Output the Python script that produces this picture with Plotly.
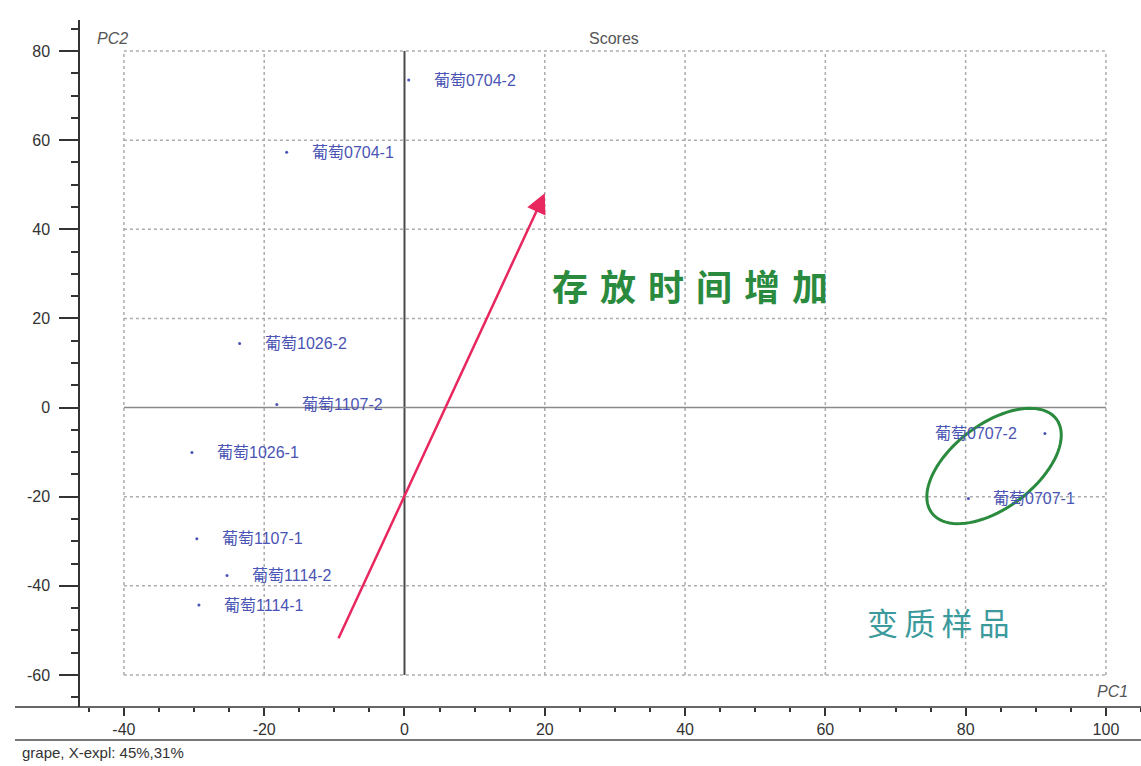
import numpy as np
import plotly.graph_objects as go

# PCA scores (PC1, PC2) for each grape sample
samples = ["葡萄0704-2", "葡萄0704-1", "葡萄1026-2", "葡萄1107-2", "葡萄1026-1",
           "葡萄1107-1", "葡萄1114-2", "葡萄1114-1", "葡萄0707-2", "葡萄0707-1"]
pc1 = [0.6, -16.8, -23.5, -18.2, -30.3, -29.6, -25.3, -29.3, 91.3, 80.4]
pc2 = [73.5, 57.3, 14.4, 0.7, -10.1, -29.4, -37.7, -44.3, -5.8, -20.4]
label_side = ["right"] * 8 + ["left", "right"]

x_ticks = [-40, -20, 0, 20, 40, 60, 80, 100]
x_ticktext = ["-40", "-20", "0", "20", "40", "60", "80", "100"]
y_ticks = [-60, -40, -20, 0, 20, 40, 60, 80]
y_ticktext = ["-60", "-40", "-20", "0", "20", "40", "60", "80"]

X_RANGE = [-46.26, 105.0]
Y_RANGE = [-67.18, 86.97]
W, H = 1141, 766
ML, MR, MT, MB = 80, 0, 20, 59
px_x = (W - ML - MR) / (X_RANGE[1] - X_RANGE[0])
px_y = (H - MT - MB) / (Y_RANGE[1] - Y_RANGE[0])

LATIN = "Liberation Sans, Arial, Noto Sans CJK SC"
CJK = "Noto Sans CJK SC"
POINT_BLUE = "#4a54b4"
GRID = "#acacac"

fig = go.Figure()

fig.add_trace(go.Scatter(
    x=pc1, y=pc2, mode="markers",
    marker=dict(size=3, color=POINT_BLUE),
    hoverinfo="text", text=samples, showlegend=False,
))

shapes = []
# dotted grid inside the [-40,100] x [-60,80] box
for gx in x_ticks:
    if gx == 0:
        continue
    shapes.append(dict(type="line", xref="x", yref="y", x0=gx, x1=gx,
                       y0=y_ticks[0], y1=y_ticks[-1],
                       line=dict(color=GRID, width=1.5, dash="dot"), layer="below"))
for gy in y_ticks:
    if gy == 0:
        continue
    shapes.append(dict(type="line", xref="x", yref="y", y0=gy, y1=gy,
                       x0=x_ticks[0], x1=x_ticks[-1],
                       line=dict(color=GRID, width=1.5, dash="dot"), layer="below"))
# origin cross lines
shapes.append(dict(type="line", xref="x", yref="y", x0=0, x1=0,
                   y0=y_ticks[0], y1=y_ticks[-1],
                   line=dict(color="#4a4a4a", width=2), layer="below"))
shapes.append(dict(type="line", xref="x", yref="y", y0=0, y1=0,
                   x0=x_ticks[0], x1=x_ticks[-1],
                   line=dict(color="#8a8a8a", width=1.5), layer="below"))
# bottom axis line and the rule under the tick labels
left_paper = (15 - ML) / (W - ML - MR)
shapes.append(dict(type="line", xref="paper", yref="paper", x0=left_paper, x1=1,
                   y0=0, y1=0, line=dict(color="#333333", width=1.5)))
shapes.append(dict(type="line", xref="paper", yref="paper", x0=left_paper, x1=1,
                   y0=-33 / (H - MT - MB), y1=-33 / (H - MT - MB),
                   line=dict(color="#777777", width=2)))

# ellipse around the spoiled samples (built in pixel space, mapped to data)
cx, cy = 84.05, -13.1
a_px, b_px, ang = 78, 42, np.deg2rad(37)
t = np.linspace(0, 2 * np.pi, 90)
ex = a_px * np.cos(t) * np.cos(ang) - b_px * np.sin(t) * np.sin(ang)
ey = a_px * np.cos(t) * np.sin(ang) + b_px * np.sin(t) * np.cos(ang)
ell_x = cx + ex / px_x
ell_y = cy + ey / px_y
path = "M " + " L ".join(f"{u:.3f},{v:.3f}" for u, v in zip(ell_x, ell_y)) + " Z"
shapes.append(dict(type="path", xref="x", yref="y", path=path,
                   line=dict(color="#2a8a3e", width=3)))

annotations = []
for name, sx, sy, side in zip(samples, pc1, pc2, label_side):
    annotations.append(dict(
        x=sx, y=sy, xref="x", yref="y", text=name, showarrow=False,
        xanchor="left" if side == "right" else "right",
        xshift=23 if side == "right" else -26, yanchor="middle",
        font=dict(family=LATIN, size=16, color=POINT_BLUE),
    ))

# storage-time arrow
annotations.append(dict(
    x=20.0, y=48.1, ax=-9.5, ay=-52.1, xref="x", yref="y", axref="x", ayref="y",
    showarrow=True, arrowhead=2, arrowsize=1.6, arrowwidth=2.5,
    arrowcolor="#e8275f", text="",
))
annotations.append(dict(
    x=40.7, y=27.5, xref="x", yref="y", text="存\u2004放\u2004时\u2004间\u2004增\u2004加",
    showarrow=False, xanchor="center", yanchor="middle",
    font=dict(family=CJK, size=36, color="#2a8a3e", weight="bold"),
))
annotations.append(dict(
    x=76.1, y=-48.1, xref="x", yref="y", text="变\u2009质\u2009样\u2009品",
    showarrow=False, xanchor="center", yanchor="middle",
    font=dict(family=CJK, size=31, color="#3c9a9c"),
))
annotations.append(dict(
    x=29.9, y=82.9, xref="x", yref="y", text="Scores", showarrow=False,
    xanchor="center", yanchor="middle",
    font=dict(family=LATIN, size=16, color="#555555"),
))
annotations.append(dict(
    x=-44.1, y=82.9, xref="x", yref="y", text="<i>PC2</i>", showarrow=False,
    xanchor="left", yanchor="middle",
    font=dict(family=LATIN, size=16, color="#555555"),
))
annotations.append(dict(
    x=103.4, y=-63.8, xref="x", yref="y", text="<i>PC1</i>", showarrow=False,
    xanchor="right", yanchor="middle",
    font=dict(family=LATIN, size=16, color="#555555"),
))
annotations.append(dict(
    x=(20 - ML) / (W - ML - MR), y=-45 / (H - MT - MB), xref="paper", yref="paper",
    text="grape, X-expl: 45%,31%", showarrow=False, xanchor="left", yanchor="middle",
    font=dict(family=LATIN, size=15, color="#333333"),
))

fig.update_layout(
    width=W, height=H,
    margin=dict(l=ML, r=MR, t=MT, b=MB, pad=0),
    paper_bgcolor="white", plot_bgcolor="white",
    showlegend=False,
    shapes=shapes, annotations=annotations,
    xaxis=dict(
        range=X_RANGE, showgrid=False, zeroline=False, showline=False,
        tickmode="array", tickvals=x_ticks, ticktext=x_ticktext,
        ticks="outside", ticklen=8, tickwidth=1.5, tickcolor="#333333",
        minor=dict(dtick=5, tick0=0, ticks="outside", ticklen=4, tickwidth=1.5,
                   tickcolor="#333333", showgrid=False),
        tickfont=dict(family=LATIN, size=16, color="#333333"),
        fixedrange=True,
    ),
    yaxis=dict(
        range=Y_RANGE, showgrid=False, zeroline=False,
        showline=True, linecolor="#333333", linewidth=1.5,
        tickmode="array", tickvals=y_ticks, ticktext=y_ticktext,
        ticks="outside", ticklen=19, tickwidth=1.5, tickcolor="#333333",
        minor=dict(dtick=5, tick0=0, ticks="outside", ticklen=7, tickwidth=1.5,
                   tickcolor="#333333", showgrid=False),
        tickfont=dict(family=LATIN, size=16, color="#333333"),
        ticklabelstandoff=6,
        fixedrange=True,
    ),
)

fig.write_html("out.html")
